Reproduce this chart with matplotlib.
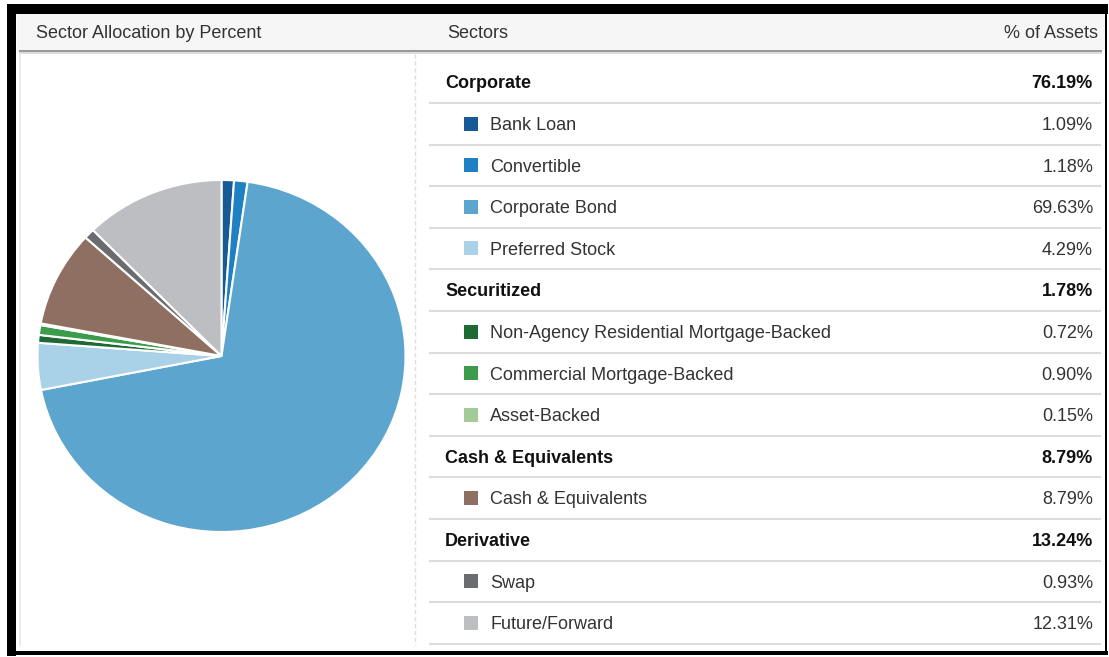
"""
Sector allocation panel: pie on the left, grouped table on the right
"""

import matplotlib.pyplot as plt
from matplotlib.patches import Rectangle

plt.rcParams['font.family'] = ['Liberation Sans', 'DejaVu Sans']

# Data
group_names = ['Corporate', 'Securitized', 'Cash & Equivalents', 'Derivative']
group_totals = [76.19, 1.78, 8.79, 13.24]

sector_names = ['Bank Loan', 'Convertible', 'Corporate Bond', 'Preferred Stock',
                'Non-Agency Residential Mortgage-Backed', 'Commercial Mortgage-Backed',
                'Asset-Backed', 'Cash & Equivalents', 'Swap', 'Future/Forward']
sector_values = [1.09, 1.18, 69.63, 4.29, 0.72, 0.90, 0.15, 8.79, 0.93, 12.31]
sector_groups = [0, 0, 0, 0, 1, 1, 1, 2, 3, 3]
sector_colors = ['#175b96', '#1f80c4', '#5ca5ce', '#a9d2e8', '#1d6a34',
                 '#3b9d4b', '#a4cb97', '#8e6f62', '#6a6c70', '#bdbec2']

W, H = 1109, 657
fig = plt.figure(figsize=(W / 100, H / 100), dpi=100)

# Background layer in pixel coordinates
bg = fig.add_axes([0, 0, 1, 1])
bg.set_xlim(0, W)
bg.set_ylim(H, 0)
bg.axis('off')

# black frame
bg.add_patch(Rectangle((7, 4), W - 8, 10, color='black', lw=0))
bg.add_patch(Rectangle((7, 4), 9, 652, color='black', lw=0))
bg.add_patch(Rectangle((7, 651), W - 8, 4, color='black', lw=0))
bg.add_patch(Rectangle((1105, 4), 2, 651, color='black', lw=0))

# header bar
bg.add_patch(Rectangle((17, 14), 1088, 37, color='#f6f6f6', lw=0))
bg.plot([20, 1101], [51, 51], color='#9a9a9a', lw=1.5)
bg.plot([20, 1101], [53, 53], color='#d6d6d6', lw=1.2)
bg.text(36, 32, 'Sector Allocation by Percent', fontsize=13, color='#333333', va='center_baseline')
bg.text(447, 32, 'Sectors', fontsize=13, color='#333333', va='center_baseline')
bg.text(1098, 32, '% of Assets', fontsize=13, color='#333333', va='center_baseline', ha='right')

# panel borders
bg.plot([20, 20], [54, 645], color='#e6e6e6', lw=1.2)
bg.plot([415, 415], [54, 645], color='#dddddd', lw=1, ls=(0, (3, 2)))

# table rows
row_h = 41.6
row = 0
for g, gname in enumerate(group_names):
    ry = 82 + row * row_h
    bg.text(445, ry, gname, fontsize=13, fontweight='bold', color='#111111', va='center_baseline')
    bg.text(1093, ry, f'{group_totals[g]:.2f}%', fontsize=13, fontweight='bold',
            color='#111111', va='center_baseline', ha='right')
    bg.plot([430, 1100], [ry + 21, ry + 21], color='#dcdcdc', lw=1.5)
    row += 1
    for name, val, col, sg in zip(sector_names, sector_values, sector_colors, sector_groups):
        if sg != g:
            continue
        ry = 82 + row * row_h
        bg.add_patch(Rectangle((464, ry - 7), 14, 14, color=col, lw=0))
        bg.text(490, ry, name, fontsize=13, color='#333333', va='center_baseline')
        bg.text(1093, ry, f'{val:.2f}%', fontsize=13, color='#333333',
                va='center_baseline', ha='right')
        bg.plot([430, 1100], [ry + 21, ry + 21], color='#dcdcdc', lw=1.5)
        row += 1

# Pie
cx, cy, rx, ry_ = 221.5, 356, 184, 176
ax = fig.add_axes([(cx - rx) / W, (H - cy - ry_) / H, 2 * rx / W, 2 * ry_ / H])
ax.pie(sector_values, colors=sector_colors, startangle=90, counterclock=False,
       radius=1, wedgeprops=dict(edgecolor='white', linewidth=1.5))
ax.set_aspect('auto')
ax.set_xlim(-1, 1)
ax.set_ylim(-1, 1)
ax.axis('off')

fig.savefig('out.png', dpi=100)
